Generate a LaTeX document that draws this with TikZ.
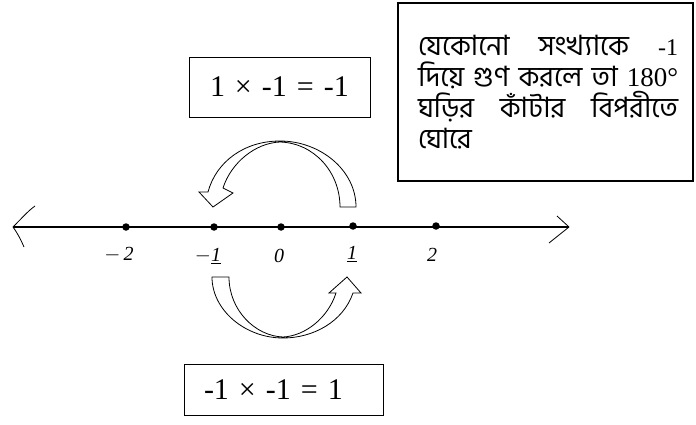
\documentclass[tikz,border=0pt]{standalone}
\usepackage{fontspec}
\setmainfont{Liberation Serif}
\newfontfamily\bnfont[Script=Bengali]{Hind Siliguri}
\begin{document}
\begin{tikzpicture}[x=1pt,y=-1pt,
  eqbox/.style={draw, line width=0.8pt, align=left, inner ysep=0pt, font=\fontsize{30}{34}\selectfont},
  dotpt/.style={circle, fill=black, inner sep=0pt, minimum size=7.5pt},
  numlab/.style={font=\fontsize{20}{20}\selectfont\itshape},
  blockarrow/.style={draw, fill=white, line width=0.8pt, line join=miter}
]
\useasboundingbox (0,0) rectangle (696,425);
% number line
\coordinate (L) at (13,227);
\coordinate (R) at (569,227);
\draw[line width=1.5pt] (L) -- (R);
\draw[line width=0.8pt] (L) .. controls (22,218) and (28,211) .. (35,206);
\draw[line width=0.8pt] (L) .. controls (18,234) and (21,240) .. (24,247);
\draw[line width=0.8pt] (R) -- (557,216);
\draw[line width=0.8pt] (R) -- (549,243);
\node[dotpt] (m2) at (126,227) {};
\node[dotpt] (m1) at (214,227) {};
\node[dotpt] (z0) at (281,227) {};
\node[dotpt] (p1) at (353,226) {};
\node[dotpt] (p2) at (436,226) {};
\node[numlab] (lm2) at (119,255) {$-$\,2};
\node[numlab] (lm1) at (208,256) {$-$\underline{1}};
\node[numlab] (l0) at (279,256) {0};
\node[numlab] (lp1) at (352,254) {\underline{1}};
\node[numlab] (lp2) at (432,255) {2};
% equation boxes
\node[eqbox, inner xsep=21pt, text width=139pt, minimum height=60pt] (top) at (279.5,87) {1 × -1 = -1};
\node[eqbox, inner xsep=20pt, text width=159pt, minimum height=51pt] (bot) at (283.5,389.5) {-1 × -1 = 1};
% right box
\node[draw, line width=1.2pt, minimum width=295pt, minimum height=178pt] (rbox) at (545.5,92) {};
\node[anchor=north west, inner sep=0pt, text width=260pt, align=justify] (rtext) at (418,35)
  {\bnfont\fontsize{28}{31}\selectfont\baselineskip=31pt যেকোনো সংখ্যাকে {\rmfamily\fontsize{24}{31}\selectfont -1}\linebreak দিয়ে গুণ করলে তা {\rmfamily\fontsize{27}{31}\selectfont 180°}\linebreak ঘড়ির কাঁটার বিপরীতে\linebreak ঘোরে\par};
% top curved arrow (from 1 to -1)
\draw[blockarrow] (356,207) -- (340,207)
  .. controls (340,172) and (314,143) .. (280,142)
  .. controls (255,143) and (231,163) .. (223,188)
  -- (233,193) -- (213,207) -- (199,192) -- (208,192)
  .. controls (216,162) and (244,141) .. (280,141)
  .. controls (320,141) and (356,170) .. (356,207) -- cycle;
% bottom curved arrow (from -1 to 1)
\draw[blockarrow] (212,277) -- (229,277)
  .. controls (229,310) and (255,336) .. (283,337)
  .. controls (305,336) and (328,318) .. (336,293)
  -- (329,293) -- (347,277) -- (361,293) -- (353,293)
  .. controls (343,322) and (313,338) .. (283,338)
  .. controls (245,338) and (212,310) .. (212,277) -- cycle;
\end{tikzpicture}
\end{document}
